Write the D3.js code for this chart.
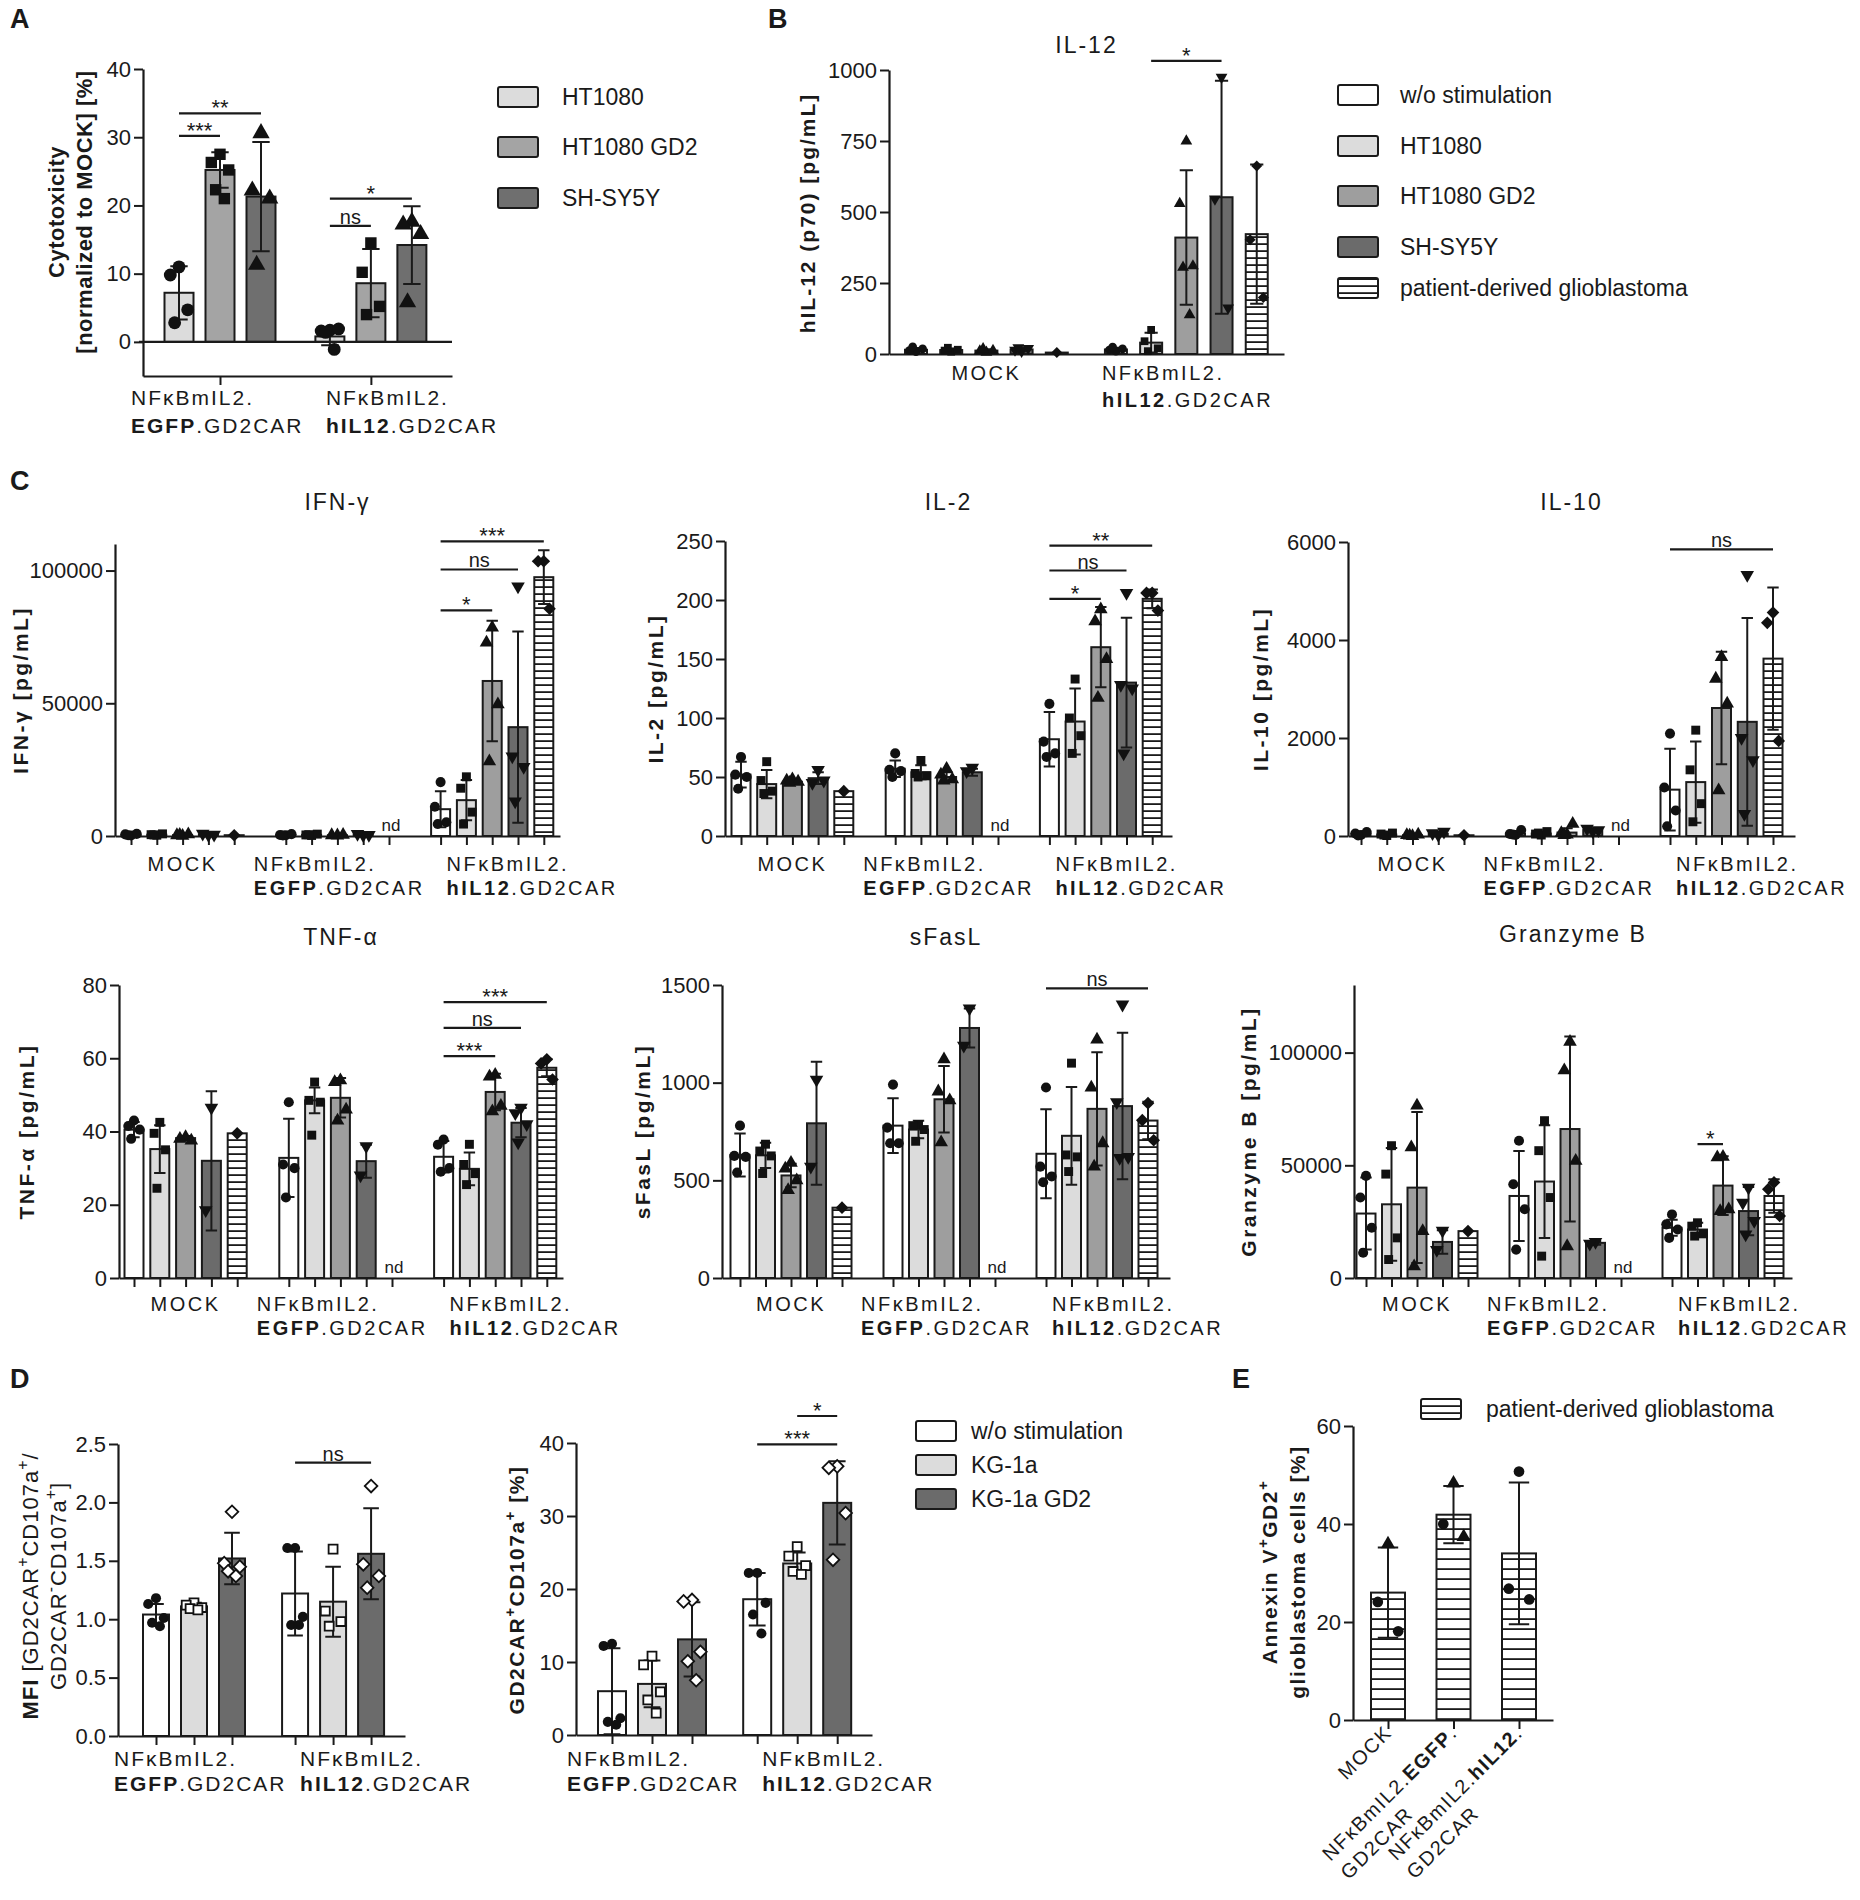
<!DOCTYPE html>
<html>
<head>
<meta charset="utf-8">
<script src="https://cdn.jsdelivr.net/npm/d3@7"></script>
<style>
  body { margin: 0; background: #fff; }
  svg text { font-family: "Liberation Sans", Arial, Helvetica, sans-serif; fill: #1a1a1a; }
</style>
</head>
<body>
<svg id="fig" width="1860" height="1900"></svg>
<script>
// ---------- data ----------
const killTargets = ['HT1080', 'HT1080 GD2', 'SH-SY5Y'];
const stimTargets = ['w/o stimulation', 'HT1080', 'HT1080 GD2', 'SH-SY5Y', 'patient-derived glioblastoma'];
const kgTargets = ['w/o stimulation', 'KG-1a', 'KG-1a GD2'];
const glioTarget = ['patient-derived glioblastoma'];

// [group][series] ; null = not determined
const cytoMean = [[7.2, 25.2, 21.3], [0.8, 8.6, 14.2]];
const cytoSd = [[3.9, 2.6, 8.0], [1.3, 5.0, 5.7]];
const cytoPts = [
  [[11.0, 9.8, 4.7, 2.8], [27.5, 26.3, 25.2, 22.3, 21.0], [30.6, 22.2, 21.0, 11.3]],
  [[1.7, 1.6, 1.9, 1.4, -1.1], [14.5, 10.2, 5.2, 4.0], [17.6, 17.2, 15.8, 5.8]]
];
const cytoSig = [[0, 0, 1, 30.2, '***'], [0, 0, 2, 33.5, '**'], [1, 0, 1, 17, 'ns'], [1, 0, 2, 21, '*']];

const il12Mean = [[15, 14, 12, 16, 5], [16, 40, 410, 552, 422]];
const il12Sd = [[6, 5, 5, 7, 0], [6, 35, 237, 410, 245]];
const il12Pts = [
  [[8, 12, 18, 25], [8, 12, 15, 22], [6, 10, 12, 18], [10, 14, 20, 22], [5]],
  [[10, 14, 18, 24], [85, 45, 20, 10], [750, 530, 310, 305, 138], [975, 546, 162], [662, 402, 199]]
];
const il12Sig = [[1, 1, 3, 1032, '*']];

const ifnMean = [[450, 500, 350, 600, 300], [400, 450, 300, 500, null], [10100, 13500, 58400, 41000, 97500]];
const ifnSd = [[300, 400, 300, 400, 0], [300, 300, 300, 300, null], [6800, 7600, 22700, 36000, 10100]];
const ifnPts = [
  [[200, 600, 800, 300], [300, 500, 800, 400], [100, 300, 600, 400], [400, 900, 500], [300]],
  [[300, 400, 700, 200], [200, 400, 700, 500], [200, 300, 400], [300, 800, 400], []],
  [[20300, 11000, 5200, 4500], [22300, 18000, 9000, 4500], [78500, 72900, 49600, 28100], [94000, 30000, 26000, 13000], [103500, 103500, 85600]]
];
const ifnSig = [[2, 0, 2, 85000, '*'], [2, 0, 3, 100400, 'ns'], [2, 0, 4, 111000, '***']];

const il2Mean = [[52, 44, 46, 49, 38], [57, 54, 50, 54, null], [82, 97, 160, 130, 201]];
const il2Sd = [[11, 12, 1.5, 5, 0], [7, 6, 4, 3, null], [23, 28, 34, 55, 8]];
const il2Pts = [
  [[67, 52, 50, 40], [63, 47, 38, 36], [48, 47, 46, 45], [56, 45, 47], [38]],
  [[70, 56, 55, 50], [64, 53, 51, 50], [57, 52, 48, 47], [58, 55], []],
  [[112, 80, 70, 67], [133, 100, 85, 70], [192, 182, 150, 117], [206, 128, 125, 70], [206, 206, 191]]
];
const il2Sig = [[2, 0, 2, 201, '*'], [2, 0, 3, 225, 'ns'], [2, 0, 4, 246, '**']];

const il10Mean = [[40, 30, 15, 45, 15], [50, 50, 70, 120, null], [946, 1100, 2612, 2330, 3620]];
const il10Sd = [[30, 25, 15, 40, 0], [40, 30, 90, 30, null], [836, 830, 1150, 2120, 1450]];
const il10Pts = [
  [[20, 50, 80, 10], [10, 40, 60, 20], [0, 20, 30, 10], [20, 60, 90], [15]],
  [[20, 40, 120, 30], [20, 40, 90, 60], [30, 60, 250, 20], [100, 150, 120], []],
  [[2090, 990, 520, 200], [2160, 1350, 660, 290], [3650, 3210, 2700, 930], [5330, 2000, 1550, 450], [4560, 4350, 1940]]
];
const il10Sig = [[2, 0, 4, 5850, 'ns']];

const tnfMean = [[40.5, 35.2, 38.2, 32, 39.5], [32.8, 48.5, 49.2, 31.9, null], [33.1, 29.8, 50.8, 42.4, 57.4]];
const tnfSd = [[2.1, 6.5, 0.6, 19, 0], [10.7, 3.5, 5.4, 4.5, null], [4.3, 4.5, 5, 4, 2.3]];
const tnfPts = [
  [[43, 41.5, 40.5, 38], [42.5, 39.5, 35, 24.5], [38.5, 38, 37.5], [46.5, 18.5], [39.5]],
  [[48, 31, 30, 22], [53.5, 48.5, 48, 39], [54, 53.5, 46, 43], [36, 28], []],
  [[37.8, 36.4, 30, 29], [36.5, 31, 28.5, 25.5], [55.5, 55, 47, 45.5], [46.5, 45, 42, 37], [59.7, 58.6, 54.2]]
];
const tnfSig = [[2, 0, 2, 60.6, '***'], [2, 0, 3, 68.3, 'ns'], [2, 0, 4, 75.3, '***']];

const sfasMean = [[630, 628, 525, 792, 360], [780, 760, 915, 1280, null], [636, 728, 866, 880, 806]];
const sfasSd = [[110, 65, 60, 315, 0], [140, 45, 170, 100, null], [228, 250, 290, 375, 96]];
const sfasPts = [
  [[780, 625, 620, 540], [685, 650, 625, 535], [590, 560, 500, 450], [1015, 570], [360]],
  [[990, 770, 690, 690], [785, 780, 760, 700], [1120, 955, 910, 695], [1380, 1190], []],
  [[975, 570, 520, 490], [1100, 630, 620, 545], [1220, 975, 690, 570], [1400, 900, 620, 615], [895, 808, 705]]
];
const sfasSig = [[2, 0, 4, 1483, 'ns']];

const gzmMean = [[28600, 32700, 40100, 16000, 20800], [36400, 42800, 66100, 15600, null], [22300, 21500, 41000, 29700, 36400]];
const gzmSd = [[16000, 25000, 33500, 5200, 0], [20000, 25000, 41000, 800, null], [3500, 3000, 13000, 10700, 7400]];
const gzmPts = [
  [[45300, 35700, 22300, 11200], [58700, 46100, 17800, 8200], [76500, 58000, 20800, 5200], [21000, 12500], [20800]],
  [[60900, 41600, 30500, 12600], [69800, 56500, 35700, 9700], [104800, 92100, 52000, 14100], [16000, 15200], []],
  [[28200, 23800, 21500, 17800], [24500, 23000, 19600, 18600], [53800, 53500, 30500, 29700], [40100, 33400, 25300, 19300], [42400, 39400, 27500]]
];
const gzmSig = [[2, 1, 2, 59400, '*']];

const mfiMean = [[1.04, 1.11, 1.52], [1.22, 1.15, 1.56]];
const mfiSd = [[0.09, 0.03, 0.22], [0.36, 0.30, 0.39]];
const mfiPts = [
  [[1.18, 1.13, 1.01, 0.97, 0.94], [1.14, 1.12, 1.10, 1.09, 1.08], [1.92, 1.48, 1.45, 1.41, 1.37]],
  [[1.61, 1.61, 1.02, 0.95, 0.95], [1.60, 1.07, 0.98, 0.94], [2.14, 1.47, 1.37, 1.27]]
];
const mfiSig = [[1, 0, 2, 2.34, 'ns']];

const degMean = [[6.0, 7.0, 13.1], [18.6, 23.5, 31.8]];
const degSd = [[5.9, 3.2, 5.1], [3.6, 1.5, 5.7]];
const degPts = [
  [[12.5, 12.2, 2.3, 1.8, 1.4], [10.8, 9.6, 5.9, 4.8, 3.0], [18.5, 18.3, 11.4, 10.1, 7.5]],
  [[22.2, 22.2, 18.1, 16.5, 13.9], [25.8, 24.5, 23.2, 22.4, 22.0], [36.8, 36.6, 30.4, 24.0]]
];
const degSig = [[1, 0, 2, 39.8, '***'], [1, 1, 2, 43.7, '*']];

const annexMean = [[26.0], [41.9], [34.0]];
const annexSd = [[9.2], [5.85], [14.45]];
const annexPts = [[[35.9, 24.1, 18.1]], [[48.3, 40.0, 37.4]], [[50.7, 26.8, 24.6]]];
const annexShapes = [['triangle', 'circle', 'circle'], ['triangle', 'circle', 'triangle'], ['circle', 'circle', 'circle']];

const cytoTicks = [0, 10, 20, 30, 40];
const il12Ticks = [0, 250, 500, 750, 1000];
const ifnTicks = [0, 50000, 100000];
const il2Ticks = [0, 50, 100, 150, 200, 250];
const il10Ticks = [0, 2000, 4000, 6000];
const tnfTicks = [0, 20, 40, 60, 80];
const sfasTicks = [0, 500, 1000, 1500];
const gzmTicks = [0, 50000, 100000];
const mfiTicks = [0, 0.5, 1, 1.5, 2, 2.5];
const degTicks = [0, 10, 20, 30, 40];
const annexTicks = [0, 20, 40, 60];

const lblMock = [[['MOCK', 0]]];
const lblEgfp = [[['NFκBmIL2.', 0]], [['EGFP', 1], ['.GD2CAR', 0]]];
const lblIl12 = [[['NFκBmIL2.', 0]], [['hIL12', 1], ['.GD2CAR', 0]]];

// ---------- drawing ----------
const svg = d3.select('#fig');
const FONT = '"Liberation Sans", Arial, Helvetica, sans-serif';
const INK = '#1a1a1a';
const defs = svg.append('defs');

function stripes(id, gap) {
  const p = defs.append('pattern').attr('id', id)
    .attr('patternUnits', 'userSpaceOnUse').attr('width', 10).attr('height', gap);
  p.append('rect').attr('width', 10).attr('height', gap).attr('fill', '#fff');
  p.append('rect').attr('y', gap - 1.8).attr('width', 10).attr('height', 1.8).attr('fill', INK);
}
stripes('stripes', 7);
stripes('stripesWide', 10);

const symType = { circle: d3.symbolCircle, square: d3.symbolSquare, triangle: d3.symbolTriangle,
  triangleDown: d3.symbolTriangle, diamond: d3.symbolSquare };
const symRot = { triangleDown: 180, diamond: 45 };
const jit = [0, -1, 1, -0.5, 0.5];

function addParts(text, parts, fs) {
  let raised = false;
  parts.forEach(([t, b, sup]) => {
    const ts = text.append('tspan').text(t).attr('font-weight', b ? 'bold' : 'normal');
    if (sup) {
      ts.attr('font-size', fs * 0.72);
      if (!raised) { ts.attr('dy', -fs * 0.45); raised = true; }
    } else if (raised) {
      ts.attr('dy', fs * 0.45); raised = false;
    }
  });
}

function styleAxis(a, fs) {
  a.attr('font-family', FONT).attr('font-size', fs);
  a.select('.domain').attr('stroke', INK).attr('stroke-width', 2.2);
  a.selectAll('.tick line').attr('stroke', INK).attr('stroke-width', 2);
  a.selectAll('.tick text').attr('fill', INK);
}

function panel(o) {
  const g = svg.append('g');
  const y = d3.scaleLinear().domain(o.domain).range([o.bottom, o.top]);
  const x = d3.scaleLinear()
    .domain([(o.left - o.slot0) / o.step, (o.right - o.slot0) / o.step])
    .range([o.left, o.right]);
  const pos = (gi, i) => x(gi * o.stride + i);
  const yz = y(Math.max(0, o.domain[0]));
  const bw = o.bw;

  const slots = [];
  o.means.forEach((row, gi) => row.forEach((m, i) => slots.push(gi * o.stride + i)));
  const tickVals = o.xTicks === 'groups'
    ? o.means.map((r, gi) => gi * o.stride + (r.length - 1) / 2)
    : o.xTicks === 'none' ? [] : slots;

  // bars
  o.means.forEach((row, gi) => row.forEach((m, i) => {
    const cx = pos(gi, i);
    if (m == null) {
      g.append('text').attr('x', cx + 2).attr('y', yz - 5).attr('text-anchor', 'middle')
        .attr('font-size', 17).text('nd');
      return;
    }
    g.append('rect').attr('x', cx - bw / 2).attr('y', Math.min(y(m), yz))
      .attr('width', bw).attr('height', Math.abs(yz - y(m)))
      .attr('fill', o.fills[i]).attr('stroke', INK).attr('stroke-width', 2);
  }));

  if (o.zeroLine) {
    g.append('line').attr('x1', o.left - 4).attr('x2', o.right).attr('y1', yz).attr('y2', yz)
      .attr('stroke', INK).attr('stroke-width', 2.2);
  }

  // axes
  const ya = g.append('g').attr('transform', `translate(${o.left},0)`)
    .call(d3.axisLeft(y).tickValues(o.ticks).tickFormat(o.fmt || d3.format('d'))
      .tickSize(9).tickSizeOuter(0).tickPadding(3));
  styleAxis(ya, o.tfs || 22);
  const xa = g.append('g').attr('transform', `translate(0,${y(o.domain[0])})`)
    .call(d3.axisBottom(x).tickValues(tickVals).tickFormat('')
      .tickSize(o.xTicks === 'none' ? 0 : 9).tickSizeOuter(0));
  styleAxis(xa, 12);

  // error bars and points
  o.means.forEach((row, gi) => row.forEach((m, i) => {
    if (m == null) return;
    const cx = pos(gi, i);
    const sd = o.sds[gi][i];
    if (sd) {
      const c = bw * 0.3;
      g.append('path')
        .attr('d', `M${cx},${y(m - sd)}V${y(m + sd)}M${cx - c},${y(m + sd)}H${cx + c}M${cx - c},${y(m - sd)}H${cx + c}`)
        .attr('stroke', INK).attr('stroke-width', 2).attr('fill', 'none');
    }
    o.pts[gi][i].forEach((v, k) => {
      const shape = o.shapeOf ? o.shapeOf(gi, i, k) : o.shapes[i];
      const open = o.open && o.open[i];
      g.append('path').attr('d', d3.symbol().type(symType[shape]).size(o.msize)())
        .attr('transform', `translate(${cx + jit[k % 5] * bw * 0.3},${y(v)}) rotate(${symRot[shape] || 0})`)
        .attr('fill', open ? '#fff' : '#111').attr('stroke', '#111')
        .attr('stroke-width', open ? 1.8 : 0);
    });
  }));

  // significance bars
  (o.sig || []).forEach(([gi, a, b, v, t]) => {
    const x1 = pos(gi, a), x2 = pos(gi, b), yy = y(v);
    g.append('line').attr('x1', x1).attr('x2', x2).attr('y1', yy).attr('y2', yy)
      .attr('stroke', INK).attr('stroke-width', 2.2);
    const ns = t === 'ns';
    g.append('text').attr('x', (x1 + x2) / 2).attr('y', ns ? yy - 2 : yy + 2)
      .attr('text-anchor', 'middle').attr('font-size', ns ? 20 : 22).text(t);
  });

  if (o.title) {
    g.append('text').attr('x', (o.left + o.right) / 2 + (o.titleDx || 0)).attr('y', o.titleY)
      .attr('text-anchor', 'middle').attr('font-size', 23).attr('letter-spacing', 2).text(o.title);
  }

  const cy = o.yTitleY != null ? o.yTitleY : (o.top + o.bottom) / 2;
  o.yTitle.forEach((parts, li) => {
    const t = g.append('text').attr('transform', `translate(${o.yTitleX[li]},${cy}) rotate(-90)`)
      .attr('text-anchor', 'middle').attr('font-size', o.yfs || 21)
      .attr('letter-spacing', o.yls != null ? o.yls : 1.5);
    addParts(t, parts, o.yfs || 21);
  });

  (o.labels || []).forEach((lines, gi) => {
    const off = o.labelOffsets[gi];
    const n = o.means[gi].length;
    lines.forEach((parts, li) => {
      const t = g.append('text').attr('y', o.labelY + li * o.labelLH)
        .attr('font-size', o.lfs || 20).attr('letter-spacing', o.lls != null ? o.lls : 2.5);
      if (off == null) t.attr('x', x(gi * o.stride + (n - 1) / 2)).attr('text-anchor', 'middle');
      else t.attr('x', pos(gi, 0) + off);
      addParts(t, parts, o.lfs || 20);
    });
  });

  return { g, x, y, pos };
}

function legend(names, fills, bx, ys, tx, fs) {
  const g = svg.append('g');
  names.forEach((n, i) => {
    g.append('rect').attr('x', bx).attr('y', ys[i] - 10).attr('width', 40).attr('height', 20)
      .attr('rx', 2).attr('fill', fills[i]).attr('stroke', INK).attr('stroke-width', 2);
    g.append('text').attr('x', tx).attr('y', ys[i] + fs * 0.36).attr('font-size', fs).text(n);
  });
}

function letter(t, x, y) {
  svg.append('text').attr('x', x).attr('y', y).attr('font-size', 27).attr('font-weight', 'bold').text(t);
}

const stimFills = ['#ffffff', '#dcdcdc', '#9e9e9e', '#6b6b6b', 'url(#stripes)'];
const stimShapes = ['circle', 'square', 'triangle', 'triangleDown', 'diamond'];

// ---------- A ----------
letter('A', 10, 28);
panel({
  left: 143, right: 452, top: 69, bottom: 376, domain: [-5, 40], ticks: cytoTicks, tfs: 22,
  slot0: 179, step: 41, stride: 3.68, bw: 29, xTicks: 'groups', zeroLine: true,
  means: cytoMean, sds: cytoSd, pts: cytoPts, sig: cytoSig, msize: 130,
  fills: ['#dcdcdc', '#a4a4a4', '#6f6f6f'], shapes: ['circle', 'square', 'triangle'],
  yTitle: [[['Cytotoxicity', 1]], [['[normalized to MOCK] [%]', 1]]], yTitleX: [64, 92], yTitleY: 212, yfs: 22, yls: 0.5,
  labels: [lblEgfp, lblIl12], labelOffsets: [-48, -4], labelY: 405, labelLH: 28, lfs: 21, lls: 2
});
legend(killTargets, ['#dcdcdc', '#a4a4a4', '#6f6f6f'], 498, [97, 147, 198], 562, 23);

// ---------- B ----------
letter('B', 768, 28);
panel({
  left: 889, right: 1284, top: 70, bottom: 354, domain: [0, 1000], ticks: il12Ticks, tfs: 22,
  slot0: 916, step: 35.2, stride: 5.68, bw: 22, xTicks: 'none',
  means: il12Mean, sds: il12Sd, pts: il12Pts, sig: il12Sig, msize: 60,
  fills: stimFills, shapes: stimShapes,
  title: 'IL-12', titleY: 53,
  yTitle: [[['hIL-12 (p70) [pg/mL]', 1]]], yTitleX: [815], yTitleY: 213, yfs: 21, yls: 2,
  labels: [lblMock, lblIl12], labelOffsets: [null, -14], labelY: 380, labelLH: 27, lfs: 20, lls: 2.5
});
legend(stimTargets, stimFills, 1338, [95, 146, 196, 247, 288], 1400, 23);

// ---------- C ----------
letter('C', 10, 490);
const cBase = { step: 25.8, stride: 6, bw: 19, xTicks: 'slots', msize: 80, fills: stimFills, shapes: stimShapes,
  labelOffsets: [null, -32, 6], labelLH: 24, lfs: 20, lls: 2.5, yfs: 21, yls: 2.5 };
const row1 = { top: 541, bottom: 836, titleY: 510, labelY: 871 };
const row2 = { top: 985, bottom: 1278, titleY: 945, labelY: 1311 };
const labelsC = [lblMock, lblEgfp, lblIl12];

panel(Object.assign({}, cBase, row1, {
  top: 544, left: 115, right: 560, slot0: 131, domain: [0, 110000], ticks: ifnTicks,
  means: ifnMean, sds: ifnSd, pts: ifnPts, sig: ifnSig, title: 'IFN-γ',
  yTitle: [[['IFN-γ [pg/mL]', 1]]], yTitleX: [28], labels: labelsC
}));
panel(Object.assign({}, cBase, row1, {
  left: 725, right: 1172, slot0: 741, step: 25.7, domain: [0, 250], ticks: il2Ticks,
  means: il2Mean, sds: il2Sd, pts: il2Pts, sig: il2Sig, title: 'IL-2',
  yTitle: [[['IL-2 [pg/mL]', 1]]], yTitleX: [663], labels: labelsC
}));
panel(Object.assign({}, cBase, row1, {
  top: 542, left: 1348, right: 1795, slot0: 1361, step: 25.75, domain: [0, 6000], ticks: il10Ticks,
  means: il10Mean, sds: il10Sd, pts: il10Pts, sig: il10Sig, title: 'IL-10',
  yTitle: [[['IL-10 [pg/mL]', 1]]], yTitleX: [1268], labels: labelsC
}));
panel(Object.assign({}, cBase, row2, {
  left: 119, right: 563, slot0: 134, domain: [0, 80], ticks: tnfTicks,
  means: tnfMean, sds: tnfSd, pts: tnfPts, sig: tnfSig, title: 'TNF-α',
  yTitle: [[['TNF-α [pg/mL]', 1]]], yTitleX: [34], labels: labelsC
}));
panel(Object.assign({}, cBase, row2, {
  left: 722, right: 1170, slot0: 740, step: 25.5, domain: [0, 1500], ticks: sfasTicks,
  means: sfasMean, sds: sfasSd, pts: sfasPts, sig: sfasSig, title: 'sFasL',
  yTitle: [[['sFasL [pg/mL]', 1]]], yTitleX: [650], labels: labelsC
}));
panel(Object.assign({}, cBase, row2, {
  left: 1354, right: 1792, slot0: 1366, step: 25.5, domain: [0, 130000], ticks: gzmTicks,
  means: gzmMean, sds: gzmSd, pts: gzmPts, sig: gzmSig, title: 'Granzyme B', titleY: 942,
  yTitle: [[['Granzyme B [pg/mL]', 1]]], yTitleX: [1256], labels: labelsC
}));

// ---------- D ----------
letter('D', 10, 1388);
const kgFills = ['#ffffff', '#dcdcdc', '#6b6b6b'];
panel({
  left: 118, right: 405, top: 1444, bottom: 1736, domain: [0, 2.5], ticks: mfiTicks, fmt: d3.format('.1f'), tfs: 22,
  slot0: 156, step: 38, stride: 3.66, bw: 26, xTicks: 'slots',
  means: mfiMean, sds: mfiSd, pts: mfiPts, sig: mfiSig, msize: 80,
  fills: kgFills, shapes: ['circle', 'square', 'diamond'], open: [false, true, true],
  yTitle: [
    [['MFI', 1], [' [GD2CAR', 0], ['+', 0, 1], ['CD107a', 0], ['+', 0, 1], ['/', 0]],
    [['GD2CAR', 0], ['-', 0, 1], ['CD107a', 0], ['+', 0, 1], [']', 0]]
  ], yTitleX: [38, 66], yTitleY: 1586, yfs: 22, yls: 1,
  labels: [lblEgfp, lblIl12], labelOffsets: [-42, 5], labelY: 1766, labelLH: 25, lfs: 21, lls: 2
});
panel({
  left: 576, right: 872, top: 1443, bottom: 1735, domain: [0, 40], ticks: degTicks, tfs: 22,
  slot0: 612, step: 40, stride: 3.63, bw: 28, xTicks: 'slots',
  means: degMean, sds: degSd, pts: degPts, sig: degSig, msize: 80,
  fills: kgFills, shapes: ['circle', 'square', 'diamond'], open: [false, true, true],
  yTitle: [[['GD2CAR', 1], ['+', 1, 1], ['CD107a', 1], ['+', 1, 1], [' [%]', 1]]],
  yTitleX: [524], yTitleY: 1590, yfs: 21, yls: 1.5,
  labels: [lblEgfp, lblIl12], labelOffsets: [-45, 5], labelY: 1766, labelLH: 25, lfs: 21, lls: 2
});
legend(kgTargets, kgFills, 916, [1431, 1465, 1499], 971, 23);

// ---------- E ----------
letter('E', 1232, 1388);
const e = panel({
  left: 1353, right: 1553, top: 1426, bottom: 1720, domain: [0, 60], ticks: annexTicks, tfs: 22,
  slot0: 1388, step: 65.5, stride: 1, bw: 34, xTicks: 'slots',
  means: annexMean, sds: annexSd, pts: annexPts, msize: 90,
  fills: ['url(#stripesWide)'], shapeOf: (gi, i, k) => annexShapes[gi][k],
  yTitle: [[['Annexin V', 1], ['+', 1, 1], ['GD2', 1], ['+', 1, 1]], [['glioblastoma cells [%]', 1]]],
  yTitleX: [1277, 1305], yTitleY: 1572, yfs: 21, yls: 1.5
});
legend(glioTarget, ['url(#stripes)'], 1421, [1409], 1486, 23);

const eLabels = [
  [[['MOCK', 0]]],
  [[['NFκBmIL2.', 0], ['EGFP', 1], ['.', 0]], [['GD2CAR', 0]]],
  [[['NFκBmIL2.', 0], ['hIL12', 1], ['.', 0]], [['GD2CAR', 0]]]
];
eLabels.forEach((lines, gi) => {
  const tr = `translate(${e.pos(gi, 0) + 5},${e.y(0) + 14}) rotate(-45)`;
  const t1 = e.g.append('text').attr('transform', tr).attr('text-anchor', 'end')
    .attr('font-size', 20).attr('letter-spacing', 1.5);
  addParts(t1, lines[0], 20);
  if (lines[1]) {
    const L = t1.node().getComputedTextLength();
    const t2 = e.g.append('text').attr('transform', tr).attr('x', -L).attr('y', 26)
      .attr('font-size', 20).attr('letter-spacing', 1.5);
    addParts(t2, lines[1], 20);
  }
});
</script>
</body>
</html>
